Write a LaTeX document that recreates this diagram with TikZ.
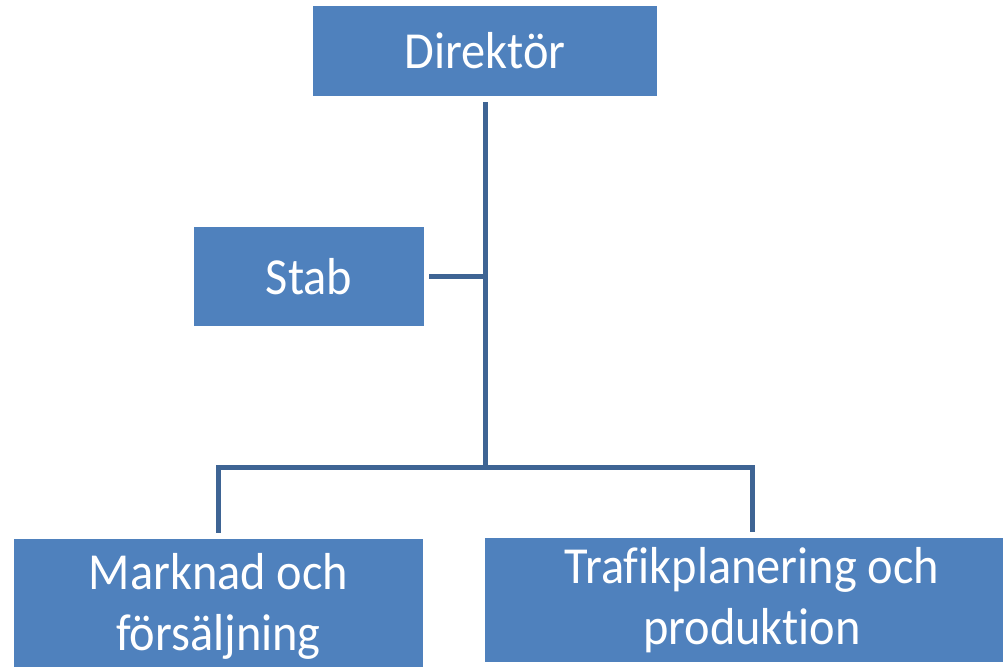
\documentclass[tikz,border=0pt]{standalone}
\usepackage{fontspec}
\setmainfont[Ligatures=NoCommon,FakeStretch=0.93]{Carlito}
\definecolor{boxblue}{RGB}{79,129,189}
\definecolor{lineblue}{RGB}{62,100,148}
\tikzset{
  unit/.style={draw=none,fill=boxblue,text=white,inner sep=0pt,font=\fontsize{52}{61}\selectfont},
  conn/.style={draw=lineblue,line width=5pt}
}
\begin{document}
\begin{tikzpicture}[x=1pt,y=-1pt]
\useasboundingbox (0,0) rectangle (1003,666);
\node[unit,minimum width=344pt,minimum height=90pt] (dir) at (485,51) {Direktör};
\node[unit,minimum width=230pt,minimum height=99pt] (stab) at (309,276.5) {Stab};
\node[unit,minimum width=409pt,minimum height=134pt,align=center] (mark) at (218.5,606) {Marknad och\\försäljning};
\node[unit,minimum width=534pt,minimum height=124pt,align=center] (traf) at (752,600) {Trafikplanering och\\produktion};
\coordinate (hub) at (485,467);
\draw[conn,shorten <=6pt] (dir.south) -- (hub);% trunk
\draw[conn,shorten <=5pt] (stab.east) -- (stab.east -| hub);
\draw[conn,shorten >=6pt] (hub) -| (mark.north);
\draw[conn,shorten >=6pt] (hub) -| (traf.north);
\end{tikzpicture}
\end{document}
